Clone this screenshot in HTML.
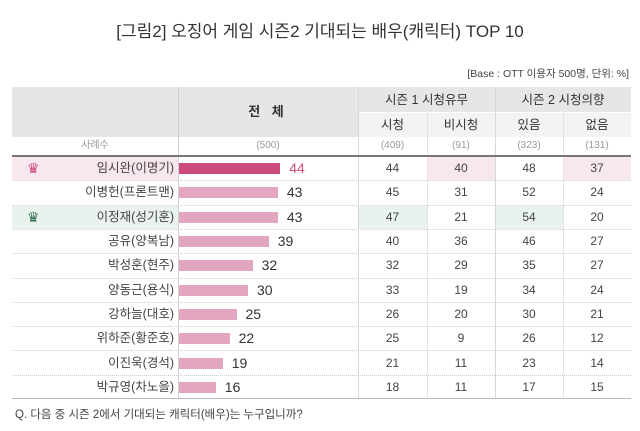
<!DOCTYPE html>
<html><head><meta charset="utf-8"><style>
*{margin:0;padding:0;box-sizing:border-box}
body{width:640px;height:431px;background:#fff;font-family:"Liberation Sans","Noto Sans CJK KR",sans-serif;position:relative;overflow:hidden;color:#333;line-height:16px}
.a{position:absolute}
.t{left:0;width:640px;top:22px;text-align:center;font-size:17px;color:#333;line-height:20px}
.c{text-align:center}
.h{background:#e6e6e6}
.s{background:#f3f3f3}
.lbl{width:152px;left:22px;text-align:right;font-size:12.5px;color:#444}
.num{font-size:12px;color:#444;text-align:center}
.bar{left:179px;height:11px;background:#e2a6c0}
.v{font-size:14px;color:#333}
.dot{left:12px;width:619px;border-top:1px dotted #ccc}
</style></head><body>
<div class="a t">[그림2] 오징어 게임 시즌2 기대되는 배우(캐릭터) TOP 10</div>
<div class="a" style="right:11px;top:66px;font-size:10.5px;color:#444">[Base : OTT 이용자 500명, 단위: %]</div>
<div class="a h" style="left:12px;top:87px;width:619px;height:50px"></div>
<div class="a s" style="left:358px;top:112px;width:273px;height:25px"></div>
<div class="a" style="left:358px;top:112px;width:273px;border-top:1px solid #fff"></div>
<div class="a" style="left:178px;top:87px;height:311px;border-left:1px solid #d0d0d0"></div>
<div class="a" style="left:358px;top:87px;height:311px;border-left:1px solid #d8d8d8"></div>
<div class="a" style="left:427px;top:112px;height:286px;border-left:1px solid #e4e4e4"></div>
<div class="a" style="left:495px;top:87px;height:311px;border-left:1px solid #d8d8d8"></div>
<div class="a" style="left:563px;top:112px;height:286px;border-left:1px solid #e4e4e4"></div>
<div class="a c" style="left:178px;width:180px;top:104px;font-size:13px;font-weight:bold;letter-spacing:4px">전 체</div>
<div class="a c" style="left:358px;width:137px;top:92px;font-size:12.5px">시즌 1 시청유무</div>
<div class="a c" style="left:495px;width:136px;top:92px;font-size:12.5px">시즌 2 시청의향</div>
<div class="a c" style="left:358px;width:69px;top:117px;font-size:12.5px">시청</div>
<div class="a c" style="left:427px;width:68px;top:117px;font-size:12.5px">비시청</div>
<div class="a c" style="left:495px;width:68px;top:117px;font-size:12.5px">있음</div>
<div class="a c" style="left:563px;width:68px;top:117px;font-size:12.5px">없음</div>
<div class="a c" style="left:12px;width:166px;top:138px;font-size:10px;color:#999">사례수</div>
<div class="a c" style="left:178px;width:180px;top:138px;font-size:10px;color:#999">(500)</div>
<div class="a c" style="left:358px;width:69px;top:138px;font-size:10px;color:#999">(409)</div>
<div class="a c" style="left:427px;width:68px;top:138px;font-size:10px;color:#999">(91)</div>
<div class="a c" style="left:495px;width:68px;top:138px;font-size:10px;color:#999">(323)</div>
<div class="a c" style="left:563px;width:68px;top:138px;font-size:10px;color:#999">(131)</div>
<div class="a" style="left:12px;top:155px;width:619px;border-top:2px solid #777"></div>
<div class="a" style="left:12px;top:398px;width:619px;border-top:1px solid #bbb"></div>
<div id="rows"></div>
<div class="a" style="left:15px;top:407px;font-size:11.5px;color:#444">Q. 다음 중 시즌 2에서 기대되는 캐릭터(배우)는 누구입니까?</div>
<script>
var d=[["임시완(이명기)",44,44,40,48,37],["이병헌(프론트맨)",43,45,31,52,24],["이정재(성기훈)",43,47,21,54,20],["공유(양복남)",39,40,36,46,27],["박성훈(현주)",32,32,29,35,27],["양동근(용식)",30,33,19,34,24],["강하늘(대호)",25,26,20,30,21],["위하준(황준호)",22,25,9,26,12],["이진욱(경석)",19,21,11,23,14],["박규영(차노을)",16,18,11,17,15]];
var cx=[358,427,495,563],cw=[69,68,68,68],h="",rh=24.3;
d.forEach(function(r,i){var y=157+i*rh,m=y+rh/2-1;
if(i==0){h+='<div class="a" style="left:12px;top:'+y+'px;width:166px;height:'+(rh-1)+'px;background:#f9e7ef"></div><div class="a" style="left:428px;top:'+y+'px;width:67px;height:'+(rh-1)+'px;background:#f9e7ef"></div><div class="a" style="left:564px;top:'+y+'px;width:67px;height:'+(rh-1)+'px;background:#f9e7ef"></div><div class="a" style="left:27px;top:'+(m-8)+'px;font-size:14px;color:#c9477a">♛</div>';}
if(i==2){h+='<div class="a" style="left:12px;top:'+y+'px;width:166px;height:'+(rh-1)+'px;background:#e9f2ed"></div><div class="a" style="left:359px;top:'+y+'px;width:68px;height:'+(rh-1)+'px;background:#e9f2ed"></div><div class="a" style="left:496px;top:'+y+'px;width:67px;height:'+(rh-1)+'px;background:#e9f2ed"></div><div class="a" style="left:27px;top:'+(m-8)+'px;font-size:14px;color:#2e6e4e">♛</div>';}
if(i>0)h+='<div class="a dot" style="top:'+(y-1)+'px"></div>';
h+='<div class="a lbl" style="top:'+(m-8)+'px">'+r[0]+'</div>';
var w=r[1]*2.3;
h+='<div class="a bar" style="top:'+(m-5)+'px;width:'+w+'px;'+(i==0?'background:#cc4a7c':'')+'"></div>';
h+='<div class="a v" style="left:'+(179+w+9)+'px;top:'+(m-8)+'px;'+(i==0?'color:#cc4a7c':'')+'">'+r[1]+'</div>';
for(var k=0;k<4;k++)h+='<div class="a num" style="left:'+cx[k]+'px;width:'+cw[k]+'px;top:'+(m-8)+'px">'+r[k+2]+'</div>';
});
document.getElementById('rows').innerHTML=h;
</script>
</body></html>
